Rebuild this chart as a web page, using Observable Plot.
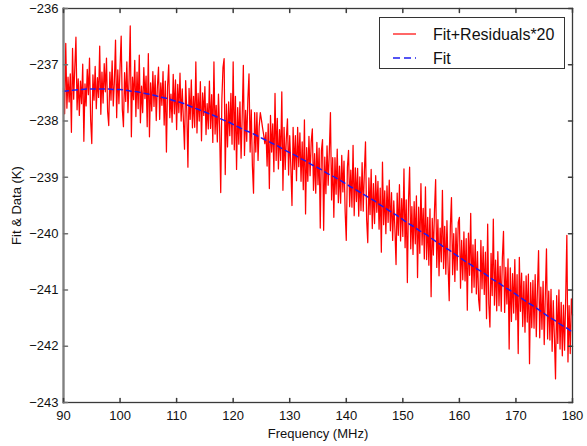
<!DOCTYPE html>
<html><head><meta charset="utf-8">
<script src="https://cdn.jsdelivr.net/npm/d3@7"></script>
<script src="https://cdn.jsdelivr.net/npm/@observablehq/plot@0.6"></script>
<style>
body{margin:0;background:#fff;}
#wrap{position:relative;width:587px;height:446px;font-family:"Liberation Sans",Arial,Helvetica,sans-serif;}
#legend{position:absolute;left:379px;top:17px;width:186px;height:52px;box-sizing:border-box;border:1px solid #333;background:#fff;}
#legend svg{position:absolute;left:0;top:0;}
</style></head>
<body><div id="wrap"></div>
<script>
// Legend labels
const seriesNames = ["Fit+Residuals*20", "Fit"];
// Axis ticks
const xTicks = [90, 100, 110, 120, 130, 140, 150, 160, 170, 180];
const yTicks = [-243, -242, -241, -240, -239, -238, -237, -236];

// Fit (blue dashed), one value per MHz from 90 to 180
const fitFreq = d3.range(90, 181);
const fitValues = [
-237.47,-237.46,-237.45,-237.44,-237.43,-237.43,-237.43,-237.43,-237.43,-237.44,
-237.44,-237.45,-237.47,-237.48,-237.50,-237.52,-237.54,-237.57,-237.59,-237.62,
-237.65,-237.68,-237.72,-237.76,-237.80,-237.84,-237.88,-237.92,-237.97,-238.01,
-238.06,-238.11,-238.16,-238.20,-238.25,-238.30,-238.35,-238.40,-238.45,-238.51,
-238.56,-238.61,-238.67,-238.72,-238.78,-238.83,-238.89,-238.95,-239.00,-239.06,
-239.12,-239.18,-239.24,-239.30,-239.36,-239.42,-239.49,-239.55,-239.62,-239.68,
-239.75,-239.82,-239.88,-239.95,-240.01,-240.08,-240.15,-240.22,-240.28,-240.35,
-240.42,-240.49,-240.55,-240.62,-240.68,-240.75,-240.82,-240.88,-240.95,-241.01,
-241.08,-241.15,-241.22,-241.28,-241.35,-241.42,-241.49,-241.55,-241.62,-241.68,
-241.75];

// Fit+Residuals*20 (red), sampled every 0.2 MHz from 90 to 180
const dataFreq = d3.range(451).map(i => 90 + i / 5);
const dataValues = [
-237.42,-237.87,-236.62,-237.77,-237.22, -237.66,-237.16,-238.20,-236.71,-237.61,
-237.05,-236.51,-237.80,-237.25,-237.90, -237.29,-237.69,-236.99,-238.36,-237.34,
-237.73,-237.08,-237.53,-236.88,-237.98, -238.40,-237.18,-237.63,-237.03,-237.78,
-237.23,-237.58,-236.67,-237.88,-237.13, -237.68,-236.98,-237.48,-236.88,-237.83,
-238.08,-237.13,-237.63,-236.93,-237.73, -237.29,-236.56,-237.94,-237.09,-237.69,
-237.04,-236.49,-237.79,-238.10,-237.14, -237.65,-236.95,-237.85,-237.25,-236.31,
-238.28,-237.22,-237.62,-236.92,-237.92, -237.13,-237.78,-236.83,-238.03,-237.38,
-237.85,-237.05,-237.60,-237.20,-238.10, -236.80,-238.28,-237.32,-237.82,-237.12,
-237.74,-237.19,-237.99,-237.39,-237.04, -237.97,-237.32,-237.72,-237.12,-238.07,
-237.29,-238.55,-237.39,-237.00,-237.94, -237.52,-238.02,-237.17,-237.87,-237.27,
-238.15,-237.35,-237.85,-237.15,-238.00, -237.43,-237.98,-238.50,-237.28,-237.83,
-238.82,-237.42,-237.97,-237.27,-238.12, -237.56,-238.11,-236.95,-238.21,-237.51,
-238.00,-237.30,-238.35,-237.50,-237.90, -237.39,-238.24,-237.69,-238.14,-237.29,
-238.13,-237.53,-238.38,-236.95,-238.23, -237.72,-238.37,-237.52,-238.12,-239.27,
-237.62,-237.05,-236.89,-238.95,-237.70, -238.46,-237.66,-238.26,-237.51,-238.41,
-236.95,-238.51,-237.56,-238.86,-237.76, -238.41,-237.66,-238.66,-237.91,-237.01,
-238.61,-237.81,-238.36,-237.61,-237.16, -238.55,-237.80,-238.80,-239.28,-237.85,
-238.55,-237.85,-238.70,-238.10,-237.85, -237.98,-238.12,-238.25,-238.40,-238.20,
-238.80,-238.05,-239.20,-237.90,-238.55, -238.05,-238.90,-237.51,-238.70,-237.95,
-238.85,-238.15,-238.70,-237.48,-239.23, -238.11,-238.86,-238.31,-237.96,-238.96,
-238.26,-238.81,-239.50,-238.11,-238.86, -238.26,-239.06,-238.11,-238.81,-238.21,
-239.07,-238.37,-239.22,-237.98,-239.65, -238.47,-239.07,-238.27,-238.97,-238.37,
-238.14,-239.23,-238.58,-239.28,-238.38, -239.13,-238.48,-239.90,-238.53,-238.33,
-239.94,-238.64,-239.29,-238.44,-239.14, -238.55,-237.85,-239.40,-238.65,-239.71,
-238.65,-239.30,-238.50,-239.45,-238.80, -239.46,-238.61,-239.26,-238.71,-239.61,
-240.12,-238.82,-238.52,-239.52,-238.87, -239.53,-238.43,-239.68,-238.83,-239.43,
-238.84,-239.69,-238.99,-239.59,-238.74, -239.60,-238.90,-238.37,-239.75,-240.16,
-239.01,-239.66,-238.86,-239.91,-239.11, -239.82,-238.97,-239.62,-239.07,-239.92,
-239.19,-240.33,-238.73,-239.84,-239.24, -240.00,-239.15,-239.80,-239.05,-239.95,
-239.27,-240.12,-239.42,-239.92,-240.55, -239.28,-240.03,-239.13,-240.13,-239.38,
-240.05,-238.85,-240.25,-239.40,-240.87, -239.42,-238.82,-240.27,-239.52,-240.37,
-239.43,-240.18,-239.33,-240.78,-239.53, -240.35,-239.11,-240.20,-239.55,-240.45,
-239.17,-240.46,-239.71,-240.56,-239.56, -241.12,-239.73,-240.38,-239.58,-239.04,
-240.60,-239.75,-240.75,-239.90,-240.50, -239.23,-240.62,-239.87,-240.72,-239.77,
-240.58,-241.19,-239.88,-239.36,-240.73, -240.00,-240.85,-239.90,-240.65,-239.80,
-239.71,-240.97,-240.12,-240.82,-239.97, -240.84,-240.09,-241.36,-239.99,-240.74,
-239.64,-241.05,-240.20,-240.95,-240.10, -241.07,-240.32,-241.17,-241.37,-240.12,
-240.98,-240.23,-241.08,-240.33,-241.51, -239.83,-241.25,-241.66,-240.35,-241.10,
-239.74,-241.27,-240.47,-241.37,-240.32, -241.28,-240.58,-241.38,-240.43,-239.96,
-241.40,-240.60,-241.25,-240.45,-242.05, -240.61,-241.56,-240.71,-241.41,-240.46,
-241.53,-240.73,-242.13,-240.42,-241.38, -240.70,-241.65,-240.85,-241.75,-240.75,
-241.57,-240.72,-242.31,-240.87,-241.67, -240.83,-241.68,-240.73,-241.83,-240.98,
-240.30,-241.85,-240.95,-241.70,-240.85, -241.97,-241.07,-240.27,-241.87,-241.02,
-241.89,-240.99,-242.09,-241.19,-241.84, -242.58,-241.10,-241.95,-241.00,-242.05,
-241.22,-242.17,-241.27,-242.07,-241.12, -240.03,-242.28,-241.28,-242.13,-241.16,
-241.45];

const data = dataFreq.map((f, i) => ({f, v: dataValues[i]}));
const fit = fitFreq.map((f, i) => ({f, v: fitValues[i]}));

const red = "#ff0000", blue = "#1c1cf0", axisColor = "#3a3a3a";
const tickShape = {draw(ctx, l) { ctx.moveTo(0, 0); ctx.lineTo(0, -l); }};
const fmtY = d => "\u2212" + Math.abs(d);

const chart = Plot.plot({
  width: 587, height: 446,
  marginLeft: 63, marginRight: 15, marginTop: 8, marginBottom: 44,
  style: {fontFamily: "'Liberation Sans', Arial, Helvetica, sans-serif", color: "#111", background: "#fff"},
  x: {domain: [90, 180]},
  y: {domain: [-243, -236]},
  marks: [
    Plot.line(data, {x: "f", y: "v", stroke: red, strokeWidth: 1.25}),
    Plot.line(fit, {x: "f", y: "v", stroke: blue, strokeWidth: 1.5, strokeDasharray: "5,4", curve: "natural"}),
    Plot.frame({stroke: axisColor, strokeWidth: 1.3}),
    Plot.frame({anchor: "left", stroke: "#808080", strokeWidth: 2.2}),
    Plot.vector(xTicks, {x: d => d, frameAnchor: "bottom", length: 4, rotate: 0, anchor: "start", shape: tickShape, stroke: axisColor}),
    Plot.vector(xTicks, {x: d => d, frameAnchor: "top", length: 4, rotate: 180, anchor: "start", shape: tickShape, stroke: axisColor}),
    Plot.vector(yTicks, {y: d => d, frameAnchor: "left", length: 4, rotate: 90, anchor: "start", shape: tickShape, stroke: "#707070"}),
    Plot.vector(yTicks, {y: d => d, frameAnchor: "right", length: 4, rotate: -90, anchor: "start", shape: tickShape, stroke: axisColor}),
    Plot.axisX(xTicks, {anchor: "bottom", tickSize: 0, tickPadding: 8, fontSize: 13,
      label: "Frequency (MHz)", labelAnchor: "center", labelOffset: 35, labelArrow: "none"}),
    Plot.axisY(yTicks, {anchor: "left", tickSize: 0, tickPadding: 5, fontSize: 13, tickFormat: fmtY,
      label: "Fit & Data (K)", labelAnchor: "center", labelOffset: 52, labelArrow: "none"})
  ]
});
const wrap = document.getElementById("wrap");
wrap.appendChild(chart);

// Legend overlay inside the plot area
const leg = document.createElement("div");
leg.id = "legend";
leg.innerHTML = `<svg width="186" height="52">
  <line x1="13" x2="36" y1="16" y2="16" stroke="${red}" stroke-width="1.2"/>
  <text x="53" y="16" dy="0.35em" font-size="16" fill="#111">${seriesNames[0]}</text>
  <line x1="13" x2="36" y1="40" y2="40" stroke="${blue}" stroke-width="1.5" stroke-dasharray="7,4"/>
  <text x="53" y="40" dy="0.35em" font-size="16" fill="#111">${seriesNames[1]}</text>
</svg>`;
wrap.appendChild(leg);
</script>
</body></html>
